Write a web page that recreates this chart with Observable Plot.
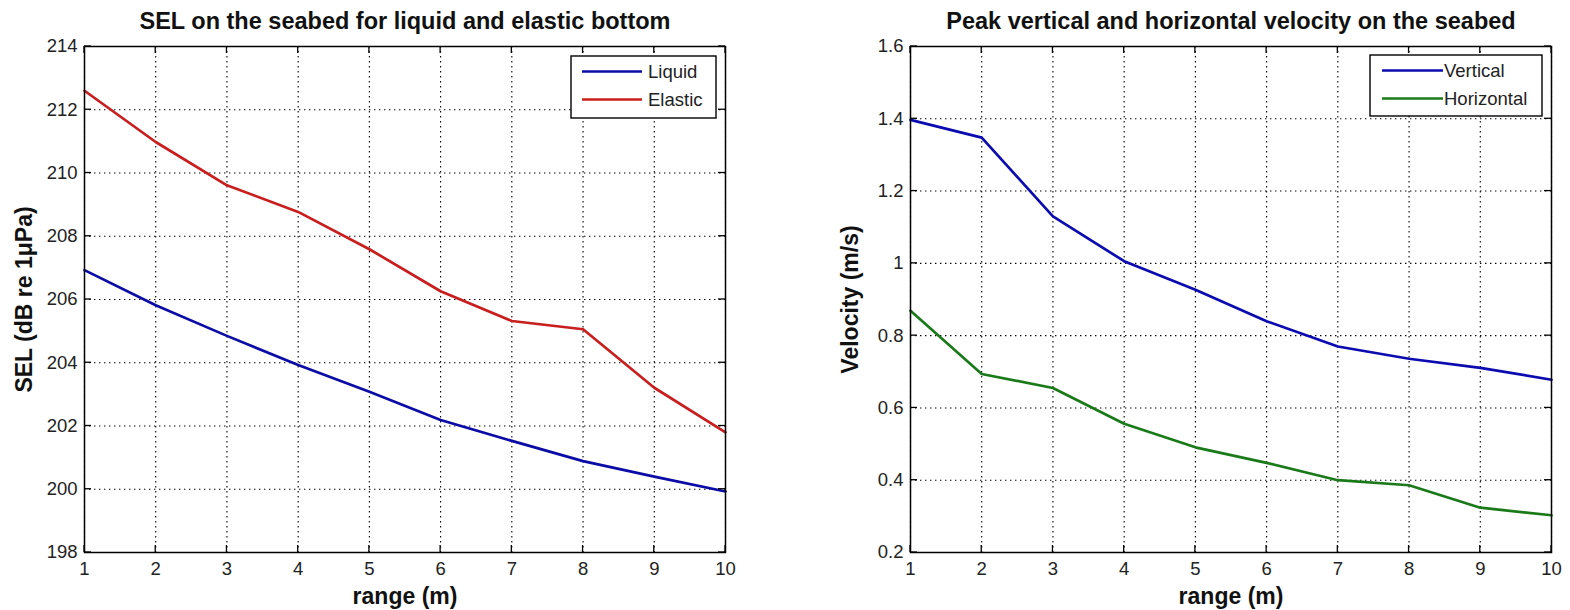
<!DOCTYPE html>
<html>
<head>
<meta charset="utf-8">
<script src="https://cdn.jsdelivr.net/npm/d3@7"></script>
<script src="https://cdn.jsdelivr.net/npm/@observablehq/plot@0.6"></script>
<style>
  html, body { margin: 0; padding: 0; background: #fff; }
  #chart { display: flex; width: 1570px; height: 610px; }
  #chart svg { display: block; }
</style>
</head>
<body>
<div id="chart"></div>
<script>
// Range from the source (m)
const range = [1, 2, 3, 4, 5, 6, 7, 8, 9, 10];

// Sound exposure level on the seabed (dB re 1 µPa)
const selLiquid  = [206.93, 205.82, 204.85, 203.93, 203.08, 202.19, 201.53, 200.89, 200.40, 199.93];
const selElastic = [212.60, 210.98, 209.61, 208.77, 207.59, 206.26, 205.32, 205.06, 203.21, 201.80];

// Peak particle velocity on the seabed (m/s)
const velVertical   = [1.397, 1.348, 1.130, 1.006, 0.927, 0.840, 0.770, 0.736, 0.711, 0.678];
const velHorizontal = [0.869, 0.694, 0.655, 0.556, 0.491, 0.448, 0.400, 0.386, 0.324, 0.303];

// Tick values
const rangeTicks = [1, 2, 3, 4, 5, 6, 7, 8, 9, 10];
const selTicks = [198, 200, 202, 204, 206, 208, 210, 212, 214];
const velTicks = [0.2, 0.4, 0.6, 0.8, 1, 1.2, 1.4, 1.6];

// Series names and colours
const selNames = ["Liquid", "Elastic"];
const selColors = ["#0b0ba6", "#c81e1e"];
const velNames = ["Vertical", "Horizontal"];
const velColors = ["#0b0bb0", "#1a7a1a"];

const FONT = "'Liberation Sans', Arial, Helvetica, sans-serif";
const W = 785, H = 610, MT = 46, MB = 58;

function panel({title, xLabel, yLabel, yDomain, yTicks, series, names, colors,
                marginLeft, marginRight, legend}) {
  const rows = series.flatMap((vals, k) =>
    range.map((r, i) => ({range: r, value: vals[i], name: names[k]})));

  const grid = {stroke: "#000", strokeOpacity: 1, strokeWidth: 1.1, strokeDasharray: "1.4,3.6"};

  const plot = Plot.plot({
    width: W, height: H,
    marginTop: MT, marginBottom: MB, marginLeft, marginRight,
    style: {fontFamily: FONT, background: "#fff", color: "#000", overflow: "visible"},
    x: {domain: [1, 10]},
    y: {domain: yDomain},
    color: {domain: names, range: colors},
    marks: [
      Plot.gridX(rangeTicks, grid),
      Plot.gridY(yTicks, grid),
      Plot.line(rows, {x: "range", y: "value", z: "name", stroke: "name", strokeWidth: 2.7}),
      Plot.axisX(rangeTicks, {tickSize: 0, tickPadding: 9, fontSize: 18.5, fill: "#222", label: null}),
      Plot.axisY(yTicks, {tickSize: 0, tickPadding: 7, fontSize: 18.5, fill: "#222", label: null,
                          tickFormat: d => String(d)}),
      Plot.frame({stroke: "#000", strokeWidth: 1.5}),
      Plot.text([title], {text: d => d, frameAnchor: "top", textAnchor: "middle", lineAnchor: "bottom",
                          dy: -18, fontSize: 23.5, fontWeight: "bold", fill: "#111"}),
      Plot.text([xLabel], {text: d => d, frameAnchor: "bottom", textAnchor: "middle", lineAnchor: "bottom",
                           dy: 51, fontSize: 23, fontWeight: "bold", fill: "#111"}),
      Plot.text([yLabel], {text: d => d, frameAnchor: "left", textAnchor: "middle", rotate: -90,
                           dx: -60, fontSize: 23, fontWeight: "bold", fill: "#111"})
    ]
  });

  const svg = d3.select(plot);
  const sx = plot.scale("x"), sy = plot.scale("y");
  const x0 = marginLeft, x1 = W - marginRight, y0 = MT, y1 = H - MB;
  const tick = 7;

  // Inward tick marks on all four sides of the box
  const g = svg.append("g").attr("stroke", "#000").attr("stroke-width", 1.3);
  for (const t of rangeTicks) {
    const px = sx.apply(t);
    g.append("line").attr("x1", px).attr("x2", px).attr("y1", y1).attr("y2", y1 - tick);
    g.append("line").attr("x1", px).attr("x2", px).attr("y1", y0).attr("y2", y0 + tick);
  }
  for (const t of yTicks) {
    const py = sy.apply(t);
    g.append("line").attr("y1", py).attr("y2", py).attr("x1", x0).attr("x2", x0 + tick);
    g.append("line").attr("y1", py).attr("y2", py).attr("x1", x1).attr("x2", x1 - tick);
  }

  // Boxed legend in the upper-right corner
  const lg = svg.append("g")
    .attr("transform", `translate(${x1 - 9 - legend.width},${y0 + legend.top})`);
  lg.append("rect")
    .attr("width", legend.width).attr("height", legend.height)
    .attr("fill", "#fff").attr("stroke", "#000").attr("stroke-width", 1.4);
  names.forEach((n, k) => {
    const ly = 15.5 + k * 28;
    lg.append("line")
      .attr("x1", legend.lineStart).attr("x2", legend.lineEnd)
      .attr("y1", ly).attr("y2", ly)
      .attr("stroke", colors[k]).attr("stroke-width", 2.7);
    lg.append("text")
      .attr("x", legend.lineEnd + legend.gap).attr("y", ly).attr("dy", "0.36em")
      .attr("text-anchor", "start")
      .attr("font-family", FONT).attr("font-size", 18.5).attr("fill", "#222")
      .text(n);
  });
  return plot;
}

const chart = document.getElementById("chart");

chart.append(panel({
  title: "SEL on the seabed for liquid and elastic bottom",
  xLabel: "range (m)",
  yLabel: "SEL (dB re 1μPa)",
  yDomain: [198, 214],
  yTicks: selTicks,
  series: [selLiquid, selElastic],
  names: selNames,
  colors: selColors,
  marginLeft: 84, marginRight: 60,
  legend: {width: 145, height: 62, top: 10, lineStart: 11, lineEnd: 71, gap: 6}
}));

chart.append(panel({
  title: "Peak vertical and horizontal velocity on the seabed",
  xLabel: "range (m)",
  yLabel: "Velocity (m/s)",
  yDomain: [0.2, 1.6],
  yTicks: velTicks,
  series: [velVertical, velHorizontal],
  names: velNames,
  colors: velColors,
  marginLeft: 125, marginRight: 19,
  legend: {width: 172, height: 61, top: 9, lineStart: 12, lineEnd: 73, gap: 1}
}));
</script>
</body>
</html>
